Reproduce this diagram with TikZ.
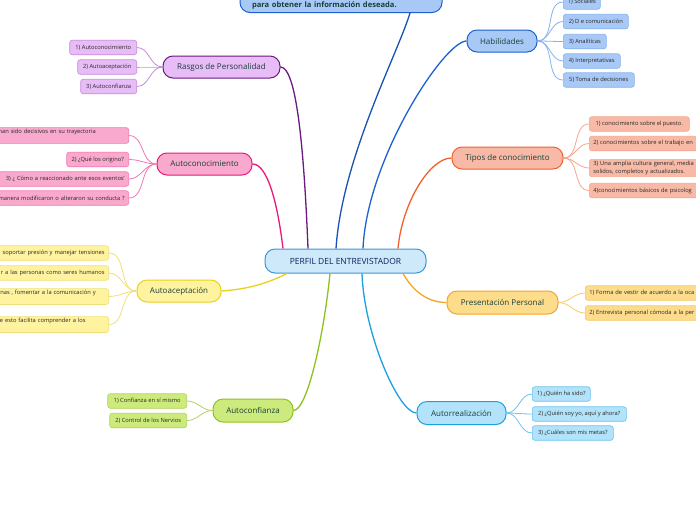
\documentclass[tikz,border=0pt]{standalone}
\usepackage{fontspec}
\setmainfont{Open Sans}
\definecolor{maintext}{HTML}{173F3A}
\definecolor{leaftext}{HTML}{262626}
\definecolor{cenfill}{HTML}{CDE9FA}
\definecolor{cendraw}{HTML}{3A97D8}
\definecolor{habfill}{HTML}{A8C9F6}
\definecolor{habdraw}{HTML}{1E60D2}
\definecolor{hableaf}{HTML}{86B2EE}
\definecolor{tipfill}{HTML}{F8BAA6}
\definecolor{tipdraw}{HTML}{F0622C}
\definecolor{tipleaf}{HTML}{F5A78C}
\definecolor{prefill}{HTML}{FDDC8C}
\definecolor{predraw}{HTML}{F5A623}
\definecolor{preleaf}{HTML}{F7C968}
\definecolor{autfill}{HTML}{B2E3FA}
\definecolor{autdraw}{HTML}{1CA0DE}
\definecolor{autleaf}{HTML}{6CC3EE}
\definecolor{acffill}{HTML}{CDEB7C}
\definecolor{acfdraw}{HTML}{8EC220}
\definecolor{acfleaf}{HTML}{B0D55A}
\definecolor{aacfill}{HTML}{FFF3A0}
\definecolor{aacdraw}{HTML}{E8D21E}
\definecolor{aacleaf}{HTML}{F1E07A}
\definecolor{acnfill}{HTML}{F9A9CD}
\definecolor{acndraw}{HTML}{E9187C}
\definecolor{acnleaf}{HTML}{F27AB2}
\definecolor{rasfill}{HTML}{E8BCF7}
\definecolor{rasdraw}{HTML}{6A1A80}
\definecolor{rasleaf}{HTML}{C58DDB}
\begin{document}
\begin{tikzpicture}[x=1pt,y=-1pt,
  mainbox/.style={draw, rounded corners=10pt, line width=1pt, minimum height=22pt, inner sep=0pt,
    font=\fontsize{8}{10}\selectfont, text=maintext},
  leafbox/.style={draw, rounded corners=2.5pt, line width=0.6pt, minimum height=14.5pt, inner xsep=4pt, inner ysep=2pt,
    font=\fontsize{5.75}{7.5}\selectfont, text=leaftext},
  branch/.style={line width=1.3pt},
  twig/.style={line width=0.8pt}]
\fill[white] (0,0) rectangle (696,520);
\useasboundingbox (0,0) rectangle (696,520);
\clip (0,0) rectangle (696,520);

% center
\node[mainbox, fill=cenfill, draw=cendraw, minimum width=161pt, minimum height=24pt, font=\fontsize{8.5}{10}\selectfont, text=maintext!70!blue!80!black] (c) at (345.5,261) {PERFIL DEL ENTREVISTADOR};

% top (cut) node
\node[mainbox, fill=habfill, draw=habdraw, anchor=south, minimum width=202pt, text width=178pt, align=left,
  inner xsep=12pt, inner ysep=3pt, text height=40pt, font=\fontsize{7.6}{9}\bfseries] (top) at (341,13) {para obtener la información deseada.};

% main nodes
\node[mainbox, fill=habfill, draw=habdraw, minimum width=70pt] (hab) at (502,41) {Habilidades};
\node[mainbox, fill=tipfill, draw=tipdraw, minimum width=111pt] (tip) at (507.5,158) {Tipos de conocimiento};
\node[mainbox, fill=prefill, draw=predraw, minimum width=111pt, minimum height=23pt] (pre) at (502.5,302.5) {Presentación Personal};
\node[mainbox, fill=autfill, draw=autdraw, minimum width=89pt, minimum height=23pt] (aut) at (461.5,413) {Autorrealización};
\node[mainbox, fill=acffill, draw=acfdraw, minimum width=80pt, minimum height=23pt] (acf) at (253,410.5) {Autoconfianza};
\node[mainbox, fill=aacfill, draw=aacdraw, minimum width=84pt] (aac) at (179,291) {Autoaceptación};
\node[mainbox, fill=acnfill, draw=acndraw, minimum width=95pt] (acn) at (204.5,164) {Autoconocimiento};
\node[mainbox, fill=rasfill, draw=rasdraw, minimum width=117pt] (ras) at (221.5,67) {Rasgos de Personalidad};

% branches
\draw[branch, draw=habdraw!85!black] ([xshift=-9.5pt]c.north) .. controls +(6,-90) and +(-12,40) .. (top.south east -| 410,0);
\draw[branch, draw=habdraw] (hab.west) .. controls +(-22,0) and +(4,-90) .. ([xshift=17.5pt]c.north);
\draw[branch, draw=tipdraw] (tip.west) .. controls +(-22,0) and +(4,-45) .. ([xshift=52.5pt]c.north);
\draw[branch, draw=predraw] (pre.west) .. controls +(-22,0) and +(8,14) .. ([xshift=57.5pt]c.south);
\draw[branch, draw=autdraw] (aut.west) .. controls +(-18,0) and +(2,60) .. ([xshift=16.5pt]c.south);
\draw[branch, draw=acfdraw] (acf.east) .. controls +(14,0) and +(-6,60) .. ([xshift=-15.5pt]c.south);
\draw[branch, draw=aacdraw] (aac.east) .. controls +(30,-2) and +(-16,8) .. ([xshift=-58.5pt]c.south);
\draw[branch, draw=acndraw] (acn.east) .. controls +(14,0) and +(-6,-50) .. ([xshift=-62.5pt]c.north);
\draw[branch, draw=rasdraw] (ras.east) .. controls +(16,0) and +(-4,-100) .. ([xshift=-37.5pt]c.north);

% Habilidades leaves
\begin{scope}[every node/.style={leafbox, fill=habfill, draw=hableaf, anchor=west}]
\node[minimum width=37pt] (h1) at (563,2) {1) Sociales};
\node[minimum width=65pt] (h2) at (563,21.5) {2) D e comunicación};
\node[minimum width=43pt] (h3) at (563,41.5) {3) Analíticas};
\node[minimum width=57pt] (h4) at (563,61) {4) Interpretativas};
\node[minimum width=71pt] (h5) at (563,80) {5) Toma de decisiones};
\end{scope}
\foreach \n in {h1,h2,h3,h4,h5} \draw[twig, draw=hableaf] (hab.east) to[out=0,in=180] (\n.west);

% Tipos leaves
\begin{scope}[every node/.style={leafbox, fill=tipfill, draw=tipleaf, anchor=west}]
\node[minimum width=100pt] (t1) at (589,124) {1) conocimiento sobre el puesto.};
\node[text width=140pt, align=left] (t2) at (589,143.5) {2) conocimientos sobre el trabajo en};
\node[text width=140pt, align=left] (t3) at (589,168) {3) Una amplia cultura general, media\\solidos, completos y actualizados.};
\node[text width=140pt, align=left] (t4) at (589,190.5) {4)conocimientos básicos de psicolog};
\end{scope}
\foreach \n in {t1,t2,t3,t4} \draw[twig, draw=tipleaf] (tip.east) to[out=0,in=180] (\n.west);

% Presentacion leaves
\begin{scope}[every node/.style={leafbox, fill=prefill, draw=preleaf, anchor=west}]
\node[text width=140pt, align=left] (p1) at (585,293) {1) Forma de vestir de acuerdo a la oca};
\node[text width=140pt, align=left] (p2) at (585,313) {2) Entrevista personal cómoda a la per};
\end{scope}
\foreach \n in {p1,p2} \draw[twig, draw=preleaf] (pre.east) to[out=0,in=180] (\n.west);

% Autorrealizacion leaves
\begin{scope}[every node/.style={leafbox, fill=autfill, draw=autleaf, anchor=west}]
\node[minimum width=58pt] (a1) at (532,394) {1) ¿Quién ha sido?};
\node[minimum width=94pt] (a2) at (532,414) {2) ¿Quién soy yo, aquí y ahora?};
\node[minimum width=81pt] (a3) at (532,433) {3) ¿Cuáles son mis metas?};
\end{scope}
\foreach \n in {a1,a2,a3} \draw[twig, draw=autleaf] (aut.east) to[out=0,in=180] (\n.west);

% Autoconfianza leaves
\begin{scope}[every node/.style={leafbox, fill=acffill, draw=acfleaf, anchor=east}]
\node[minimum width=79pt] (f1) at (187,401) {1) Confianza en sí mismo};
\node[minimum width=77pt] (f2) at (187,420.5) {2) Control de los Nervios};
\end{scope}
\foreach \n in {f1,f2} \draw[twig, draw=acfleaf] (acf.west) to[out=180,in=0] (\n.east);

% Autoaceptacion leaves
\begin{scope}[every node/.style={leafbox, fill=aacfill, draw=aacleaf, anchor=east, text width=150pt, align=right}]
\node (e1) at (109,253) {soportar presión y manejar tensiones};
\node (e2) at (109,273) {r a las personas como seres humanos};
\node (e3) at (109,296.5) {nas , fomentar a la comunicación y\rule{9pt}{0pt}\\\mbox{}};
\node (e4) at (109,324.5) {e esto facilita comprender a los\rule{19pt}{0pt}\\\mbox{}};
\end{scope}
\foreach \n in {e1,e2,e3,e4} \draw[twig, draw=aacleaf] (aac.west) to[out=180,in=0] (\n.east);

% Autoconocimiento leaves
\begin{scope}[every node/.style={leafbox, fill=acnfill, draw=acnleaf, anchor=east}]
\node[text width=150pt, align=right] (k1) at (129,135.5) {han sido decisivos en su trayectoria\rule{29pt}{0pt}\\\mbox{}};
\node[minimum width=62pt] (k2) at (129,159.5) {2) ¿Qué los origino?};
\node[text width=150pt, align=right] (k3) at (129,179) {3) ¿ Cómo a reaccionado ante esos eventos'};
\node[text width=150pt, align=right] (k4) at (129,198) {manera modificaron o alteraron su conducta ?};
\end{scope}
\foreach \n in {k1,k2,k3,k4} \draw[twig, draw=acnleaf] (acn.west) to[out=180,in=0] (\n.east);

% Rasgos leaves
\begin{scope}[every node/.style={leafbox, fill=rasfill, draw=rasleaf, anchor=east}]
\node[minimum width=67pt] (r1) at (137,47.5) {1) Autoconocimiento};
\node[minimum width=59pt] (r2) at (137,67) {2) Autoaceptación};
\node[minimum width=56pt] (r3) at (137,86.5) {3) Autoconfianza};
\end{scope}
\foreach \n in {r1,r2,r3} \draw[twig, draw=rasleaf] (ras.west) to[out=180,in=0] (\n.east);

\end{tikzpicture}
\end{document}
